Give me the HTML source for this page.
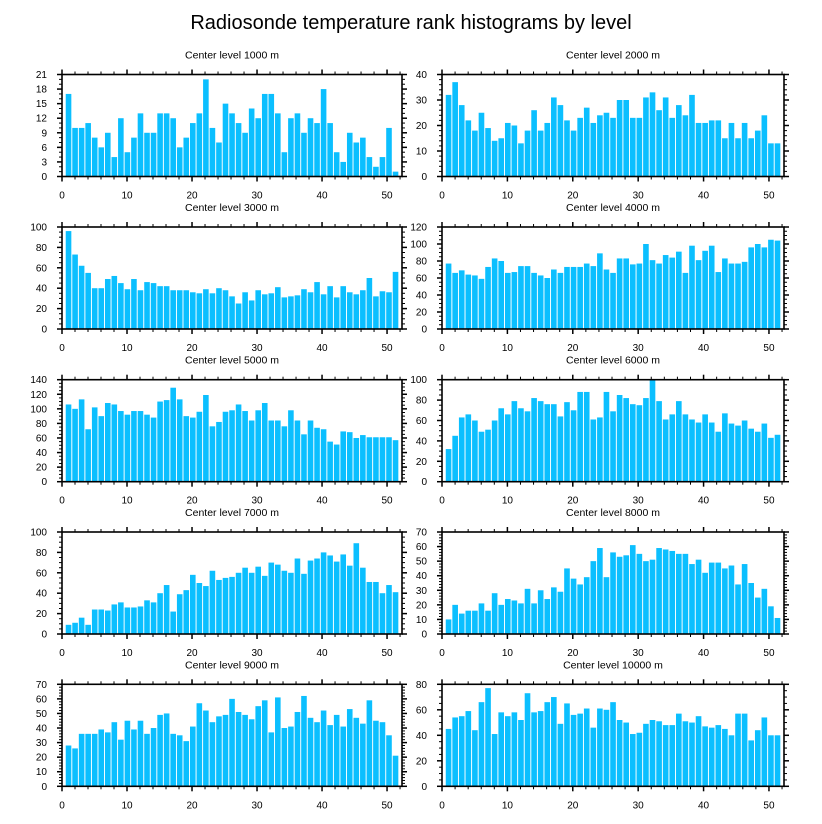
<!DOCTYPE html>
<html><head><meta charset="utf-8"><style>
body{margin:0;background:#fff;}
svg{display:block;font-family:"Liberation Sans",sans-serif;}
</style></head><body>
<svg id="chart" width="822" height="824">
<text x="411" y="29" text-anchor="middle" font-size="20" fill="#000">Radiosonde temperature rank histograms by level</text>
</svg>
<script>
const levels = ["1000","2000","3000","4000","5000","6000","7000","8000","9000","10000"];
const yMaxes = [21,40,100,120,140,100,100,70,70,80];
const yMajors = [3,10,20,20,20,20,20,10,10,20];
const yMinors = [1,2,5,5,5,5,5,2,2,5];
const xTicks = [0,10,20,30,40,50];
const v1000 = [17,10,10,11,8,6,9,4,12,5,8,13,9,9,13,13,12,6,8,11,13,20,10,7,15,13,11,9,14,12,17,17,13,5,12,13,9,12,11,18,11,5,3,9,7,8,4,2,4,10,1];
const v2000 = [32,37,28,22,18,25,19,14,15,21,20,13,18,26,18,21,31,28,22,18,23,27,21,24,25,23,30,30,23,23,31,33,26,31,23,28,24,32,21,21,22,22,15,21,15,21,15,18,24,13,13];
const v3000 = [96,73,62,55,40,40,49,52,45,39,49,38,46,45,42,42,38,38,38,36,35,39,35,40,38,32,25,36,28,38,34,35,41,31,32,33,39,36,46,34,42,31,42,36,34,38,50,32,37,36,56];
const v4000 = [77,66,69,64,63,59,73,83,80,66,67,74,74,66,63,60,70,66,73,73,73,77,74,89,70,66,83,83,76,77,100,81,77,87,84,91,66,98,81,92,98,67,83,77,77,79,96,100,96,105,104];
const v5000 = [106,100,113,72,102,90,108,106,97,92,97,97,92,88,110,112,129,113,90,88,96,119,76,82,96,98,106,97,84,98,108,84,84,76,98,84,65,84,74,72,55,51,69,68,60,64,61,61,61,61,57];
const v6000 = [32,45,63,66,60,49,51,60,72,66,79,72,69,82,79,76,76,64,78,70,88,88,61,63,88,69,85,82,76,75,82,100,79,61,66,79,66,61,58,66,58,49,67,57,55,60,52,49,57,43,46];
const v7000 = [9,11,16,9,24,24,23,29,31,26,26,27,33,31,40,48,22,39,43,58,50,47,62,53,55,56,60,65,60,66,57,70,68,62,60,74,59,72,74,80,77,71,78,67,89,65,51,51,40,48,41];
const v8000 = [10,20,14,16,16,21,16,28,20,24,23,21,31,21,30,24,32,29,45,38,34,39,50,59,39,56,53,54,61,55,50,51,59,58,57,55,55,48,51,42,49,49,45,47,34,48,35,25,31,19,11];
const v9000 = [28,26,36,36,36,39,37,44,32,45,39,45,36,40,49,50,36,35,31,41,57,52,44,48,49,60,51,49,46,55,59,37,61,40,41,51,62,47,44,52,42,49,41,53,47,43,59,45,44,35,21];
const v10000 = [45,54,55,59,44,66,77,41,58,55,58,52,73,58,59,66,70,49,65,56,57,61,46,61,60,66,52,50,41,42,49,52,51,48,48,57,51,50,55,47,46,48,45,40,57,57,36,44,54,40,40];
const series = [v1000,v2000,v3000,v4000,v5000,v6000,v7000,v8000,v9000,v10000];

const NS = "http://www.w3.org/2000/svg";
const svg = document.getElementById("chart");
function mk(tag, attrs, parent){const e=document.createElementNS(NS,tag);for(const k in attrs)e.setAttribute(k,attrs[k]);parent.appendChild(e);return e;}
const XMAX = 52.3;
const tops = [74.5,227,379.7,532,684.3];
const PH = 102;
for(let p=0;p<10;p++){
  const col=p%2,row=Math.floor(p/2);
  const L = col? 442:62, W = col? 342:340, T=tops[row], B=T+PH;
  const xs = v=> L + v/XMAX*W;
  const ys = v=> B - v/yMaxes[p]*PH;
  const g = mk("g",{},svg);
  
  
  const t = mk("text",{x:L+W/2,y:T-16,"text-anchor":"middle","font-size":"10.5",fill:"#000"},g);
  t.textContent = "Center level "+levels[p]+" m";
  
  
  const vals = series[p];
  const bw = 0.86*W/XMAX;
  vals.forEach((v,i)=>{
    const cx = xs((i+1)*1.006);
    const r = mk("rect",{x:cx-bw/2,y:ys(v),width:bw,height:B-ys(v),fill:"#0bbfff"},g);
    
    
  });
  // minor x ticks
  for(let x=0;x<=52;x+=2){
    const major = x%10===0, len = major?5:3;
    mk("line",{x1:xs(x),x2:xs(x),y1:B,y2:B+len,stroke:"#000","stroke-width":major?1.5:1},g);
    mk("line",{x1:xs(x),x2:xs(x),y1:T,y2:T-len,stroke:"#000","stroke-width":major?1.5:1},g);
  }
  xTicks.forEach(x=>{
    const lt = mk("text",{x:xs(x),y:B+22,"text-anchor":"middle","font-size":"10",fill:"#000"},g);
    lt.textContent = x;
    
    
  });
  const ymx=yMaxes[p];
  for(let y=0;y<=ymx+1e-9;y+=yMinors[p]){
    const major = Math.abs(y/yMajors[p]-Math.round(y/yMajors[p]))<1e-6, len=major?5:3;
    mk("line",{x1:L,x2:L-len,y1:ys(y),y2:ys(y),stroke:"#000","stroke-width":major?1.5:1},g);
    mk("line",{x1:L+W,x2:L+W+len,y1:ys(y),y2:ys(y),stroke:"#000","stroke-width":major?1.5:1},g);
    if(major){
      const yl = mk("text",{x:L-15,y:ys(y)+3.5,"text-anchor":"end","font-size":"10",fill:"#000"},g);
      yl.textContent = Math.round(y);
      
      
    }
  }
  const fr = mk("rect",{x:L,y:T,width:W,height:PH,fill:"none",stroke:"#000","stroke-width":1.6},g);
  
  
}
</script>
</body></html>
